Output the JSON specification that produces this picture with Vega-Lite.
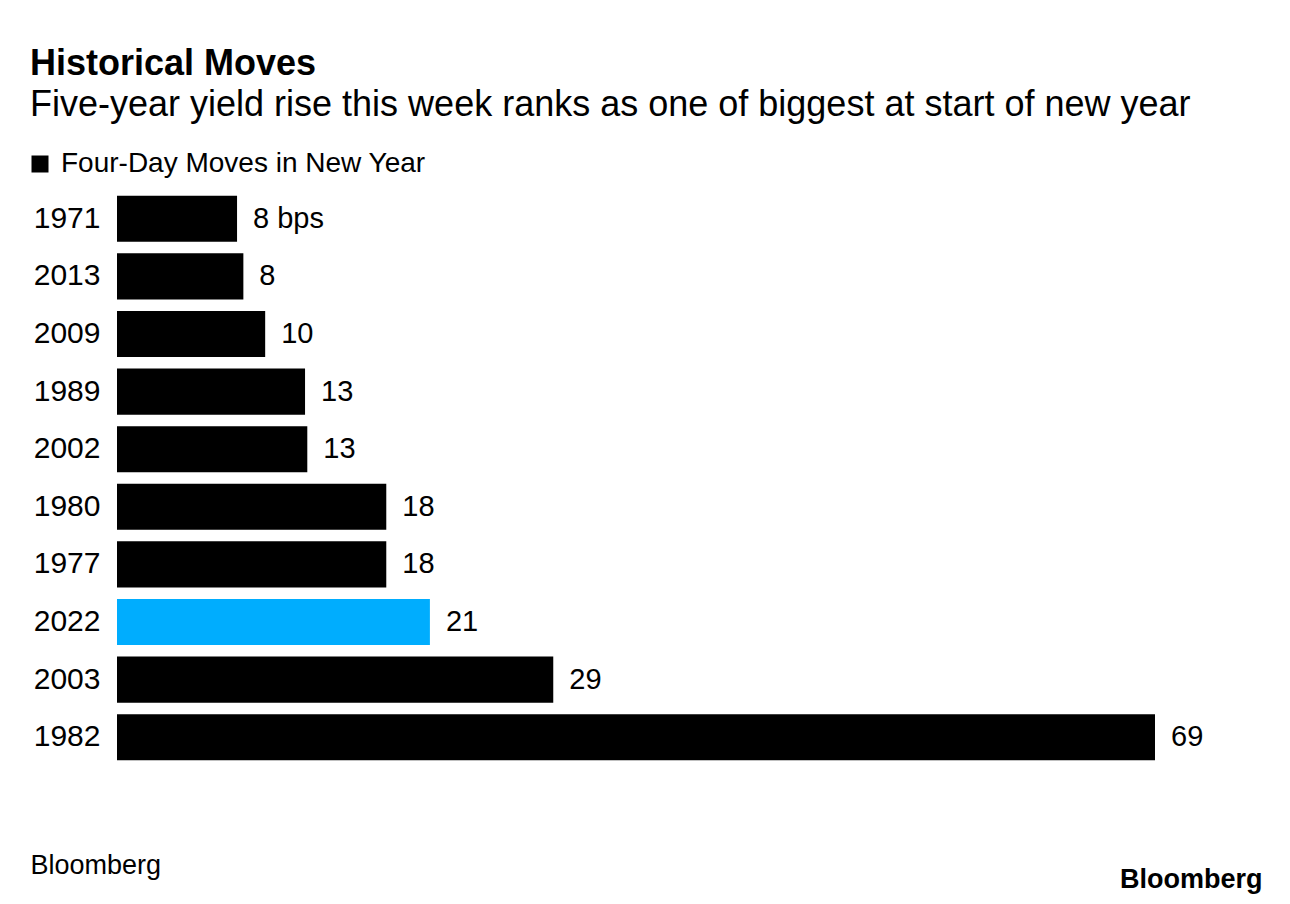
{
  "$schema": "https://vega.github.io/schema/vega-lite/v6.json",
  "autosize": {"type": "none"},
  "width": 1038,
  "height": 576,
  "padding": {"left": 117, "top": 190, "right": 135, "bottom": 138},
  "background": "white",
  "config": {
    "view": {"stroke": null},
    "font": "Liberation Sans",
    "text": {"font": "Liberation Sans"}
  },
  "title": {
    "text": "Historical Moves",
    "subtitle": "Five-year yield rise this week ranks as one of biggest at start of new year",
    "anchor": "start",
    "frame": "group",
    "dx": -87,
    "offset": 26,
    "font": "Liberation Sans",
    "fontSize": 36,
    "fontWeight": "bold",
    "color": "#000000",
    "subtitleFont": "Liberation Sans",
    "subtitleFontSize": 36,
    "subtitleColor": "#000000",
    "subtitlePadding": 5
  },
  "data": {
    "values": [
      {"year": "1971", "value": 7.98, "label": "8 bps", "series": "Four-Day Moves in New Year"},
      {"year": "2013", "value": 8.4, "label": "8", "series": "Four-Day Moves in New Year"},
      {"year": "2009", "value": 9.85, "label": "10", "series": "Four-Day Moves in New Year"},
      {"year": "1989", "value": 12.5, "label": "13", "series": "Four-Day Moves in New Year"},
      {"year": "2002", "value": 12.65, "label": "13", "series": "Four-Day Moves in New Year"},
      {"year": "1980", "value": 17.9, "label": "18", "series": "Four-Day Moves in New Year"},
      {"year": "1977", "value": 17.9, "label": "18", "series": "Four-Day Moves in New Year"},
      {"year": "2022", "value": 20.8, "label": "21", "series": "Four-Day Moves in New Year"},
      {"year": "2003", "value": 29.0, "label": "29", "series": "Four-Day Moves in New Year"},
      {"year": "1982", "value": 69.0, "label": "69", "series": "Four-Day Moves in New Year"}
    ]
  },
  "encoding": {
    "y": {
      "field": "year",
      "type": "ordinal",
      "sort": null,
      "scale": {"paddingInner": 0.2, "paddingOuter": 0.1},
      "axis": {
        "title": null,
        "domain": false,
        "ticks": false,
        "labelPadding": 17,
        "labelFontSize": 30,
        "labelColor": "#000000",
        "labelFont": "Liberation Sans"
      }
    }
  },
  "layer": [
    {
      "mark": {"type": "bar"},
      "encoding": {
        "x": {
          "field": "value",
          "type": "quantitative",
          "scale": {"domain": [0, 69], "nice": false, "zero": true},
          "axis": {
            "orient": "bottom",
            "title": "Bloomberg",
            "labels": false,
            "ticks": false,
            "domain": false,
            "grid": false,
            "titleX": -87,
            "titleY": 107,
            "titleAlign": "left",
            "titleAnchor": null,
            "titleBaseline": "alphabetic",
            "titleFontSize": 27,
            "titleFontWeight": "normal",
            "titleFont": "Liberation Sans",
            "titleColor": "#000000"
          }
        },
        "color": {
          "condition": {"test": "datum.year === '2022'", "value": "#00adfe"},
          "field": "series",
          "type": "nominal",
          "scale": {"range": ["#000000"]},
          "legend": {
            "title": null,
            "orient": "none",
            "legendX": -91,
            "legendY": -40,
            "symbolType": "square",
            "symbolSize": 289,
            "symbolStrokeWidth": 0,
            "labelFontSize": 28,
            "labelFont": "Liberation Sans",
            "labelColor": "#000000",
            "labelOffset": 7,
            "labelLimit": 600
          }
        }
      }
    },
    {
      "mark": {"type": "text", "align": "left", "baseline": "middle", "dx": 16, "fontSize": 29, "color": "#000000", "font": "Liberation Sans"},
      "encoding": {
        "x": {
          "field": "value",
          "type": "quantitative",
          "scale": {"domain": [0, 69], "nice": false, "zero": true},
          "axis": {
            "orient": "bottom",
            "title": "Bloomberg",
            "labels": false,
            "ticks": false,
            "domain": false,
            "grid": false,
            "titleX": 1145,
            "titleY": 121,
            "titleAlign": "right",
            "titleAnchor": null,
            "titleBaseline": "alphabetic",
            "titleFontSize": 27,
            "titleFontWeight": "bold",
            "titleFont": "Liberation Sans",
            "titleColor": "#000000"
          }
        },
        "text": {"field": "label"}
      }
    }
  ],
  "resolve": {"axis": {"x": "independent"}}
}
